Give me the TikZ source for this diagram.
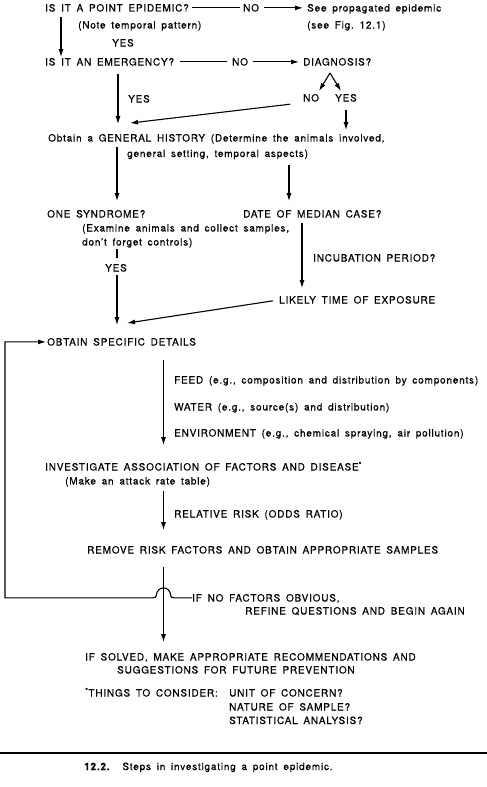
\documentclass[tikz,border=0pt]{standalone}
\usepackage{fontspec}
\setmainfont{TeX Gyre Heros}[LetterSpace=8,WordSpace=1.6,FakeBold=0.5]
\usepackage{tikz}
\usetikzlibrary{arrows.meta,calc}
\newcommand{\fnt}{\fontsize{10}{12}\selectfont}
\tikzset{
	txt/.style={anchor=base west, inner sep=0pt, text height=7.2pt, text depth=0pt, font=\fnt},
	ln/.style={line width=1.1pt},
	arr/.style={ln, -{Latex[length=8pt,width=5pt]}}
}

\begin{document}
\begin{tikzpicture}[x=1pt, y=-1pt]
	\useasboundingbox (0,0) rectangle (487,787);
	\node[txt] (pe) at (45,11.5) {IS IT A POINT EPIDEMIC?};
	\node[txt] (penote) at (78,28.5) {(Note temporal pattern)};
	\node[txt] (no1) at (243,11.5) {NO};
	\node[txt] (see) at (307,11.5) {See propagated epidemic};
	\node[txt] (seefig) at (307,28.5) {(see Fig.~12.1)};
	\node[txt] (yes1) at (112,46.5) {YES};
	\node[txt] (em) at (45,65.5) {IS IT AN EMERGENCY?};
	\node[txt] (no2) at (232,65.5) {NO};
	\node[txt] (diag) at (303,65.5) {DIAGNOSIS?};
	\node[txt] (yes2) at (128,102.5) {YES};
	\node[txt] (no3) at (303,101.5) {NO};
	\node[txt] (yes3) at (335,101.5) {YES};
	\node[txt] (gh) at (48,141.5) {Obtain a GENERAL HISTORY (Determine the animals involved,};
	\node[txt] (gh2) at (127,157) {general setting, temporal aspects)};
	\node[txt] (one) at (47,217.5) {ONE SYNDROME?};
	\node[txt] (date) at (243,217.5) {DATE OF MEDIAN CASE?};
	\node[txt] (exam) at (82,231.5) {(Examine animals and collect samples,};
	\node[txt] (ctrl) at (82,245.5) {don't forget controls)};
	\node[txt] (yes4) at (105,271.5) {YES};
	\node[txt] (incub) at (313,261.5) {INCUBATION PERIOD?};
	\node[txt] (likely) at (279,303.5) {LIKELY TIME OF EXPOSURE};
	\node[txt] (spec) at (47,345.5) {OBTAIN SPECIFIC DETAILS};
	\node[txt] (feed) at (174,383.5) {FEED (e.g., composition and distribution by components)};
	\node[txt] (water) at (174,410.5) {WATER (e.g., source(s) and distribution)};
	\node[txt] (env) at (174,436.5) {ENVIRONMENT (e.g., chemical spraying, air pollution)};
	\node[txt] (inv) at (45,470.5) {INVESTIGATE ASSOCIATION OF FACTORS AND DISEASE\textsuperscript{*}};
	\node[txt] (attack) at (65,484.5) {(Make an attack rate table)};
	\node[txt] (rr) at (174,517.5) {RELATIVE RISK (ODDS RATIO)};
	\node[txt] (remove) at (87,553.5) {REMOVE RISK FACTORS AND OBTAIN APPROPRIATE SAMPLES};
	\node[txt] (ifno) at (192,601.5) {IF NO FACTORS OBVIOUS,};
	\node[txt] (refine) at (245,614.5) {REFINE QUESTIONS AND BEGIN AGAIN};
	\node[txt] (solved) at (85,660.5) {IF SOLVED, MAKE APPROPRIATE RECOMMENDATIONS AND};
	\node[txt] (sugg) at (117,673.5) {SUGGESTIONS FOR FUTURE PREVENTION};
	\node[txt] (things) at (85,696.5) {\textsuperscript{*}THINGS TO CONSIDER:};
	\node[txt] (unit) at (229,696.5) {UNIT OF CONCERN?};
	\node[txt] (nature) at (229,710.5) {NATURE OF SAMPLE?};
	\node[txt] (stat) at (229,724) {STATISTICAL ANALYSIS?};
	\node[txt] (caption) at (84,770) {\textbf{12.2.}\hspace{1.2em}Steps in investigating a point epidemic.};

	\coordinate (xa) at (61,0);
	\coordinate (xb) at (118,0);
	\coordinate (xc) at (117,0);
	\coordinate (xd) at (289,0);
	\coordinate (xe) at (302,0);
	\coordinate (xf) at (163.5,0);
	\coordinate (xg) at (5,0);
	\coordinate (apex) at (330,73);
	\coordinate (dno) at (319,91);
	\coordinate (dyes) at (341,91);

	\draw[ln,shorten <=3pt,shorten >=3pt] (pe) -- (no1);
	\draw[arr,shorten <=5pt,shorten >=4pt] (no1) -- (see);
	\draw[ln,shorten <=6pt,shorten >=5pt] (em) -- (no2);
	\draw[arr,shorten <=5pt,shorten >=4pt] (no2) -- (diag);
	\draw[arr,shorten <=5.5pt,shorten >=1pt] (pe.south -| xa) -- (em.north -| xa);
	\draw[arr,shorten <=8.5pt,shorten >=10pt] (em.south -| xb) -- (gh.north -| xb);
	\draw[arr] (apex) -- (dno);
	\draw[arr] (apex) -- (dyes);
	\draw[arr] ($(no3.south west)+(-13,2.5)$) -- ($(gh.north west)+(82,-11)$);
	\draw[arr,shorten <=8pt,shorten >=4pt] (yes3.south) -- (yes3.south |- gh.north);
	\draw[arr,shorten <=5.5pt,shorten >=9pt] (gh.south -| xc) -- (one.north -| xc);
	\draw[arr,shorten <=8pt,shorten >=9pt] (gh2.south -| xd) -- (date.north -| xd);
	\draw[ln,shorten <=3.5pt,shorten >=6pt] (ctrl.south -| xc) -- (yes4.north -| xc);
	\draw[arr,shorten <=3.5pt,shorten >=13pt] (yes4.south -| xc) -- (spec.north -| xc);
	\draw[arr,shorten <=5.5pt,shorten >=8pt] (date.south -| xe) -- (likely.north -| xe);
	\draw[arr,shorten <=6pt] (likely.west) -- ($(spec.north west)+(80,-15)$);
	\draw[arr,shorten <=14.5pt,shorten >=18pt] (spec.south -| xf) -- (inv.north -| xf);
	\draw[arr,shorten <=6.5pt,shorten >=16pt] (attack.south -| xf) -- (remove.north -| xf);
	\draw[arr,shorten <=13.5pt,shorten >=11pt] (remove.south -| xf) -- (solved.north -| xf);
	\draw[arr,shorten >=1pt] (ifno.west) -- ++(-17.5,0) .. controls +(-3,0) and +(0,2) .. ++(-4,-3) arc (0:-180:7) .. controls +(0,2) and +(3,0) .. ++(-4,3) -- (xg |- ifno.west) |- (spec.west);

	\draw[line width=1.6pt] (0,753) -- (487,753);
\end{tikzpicture}
\end{document}
